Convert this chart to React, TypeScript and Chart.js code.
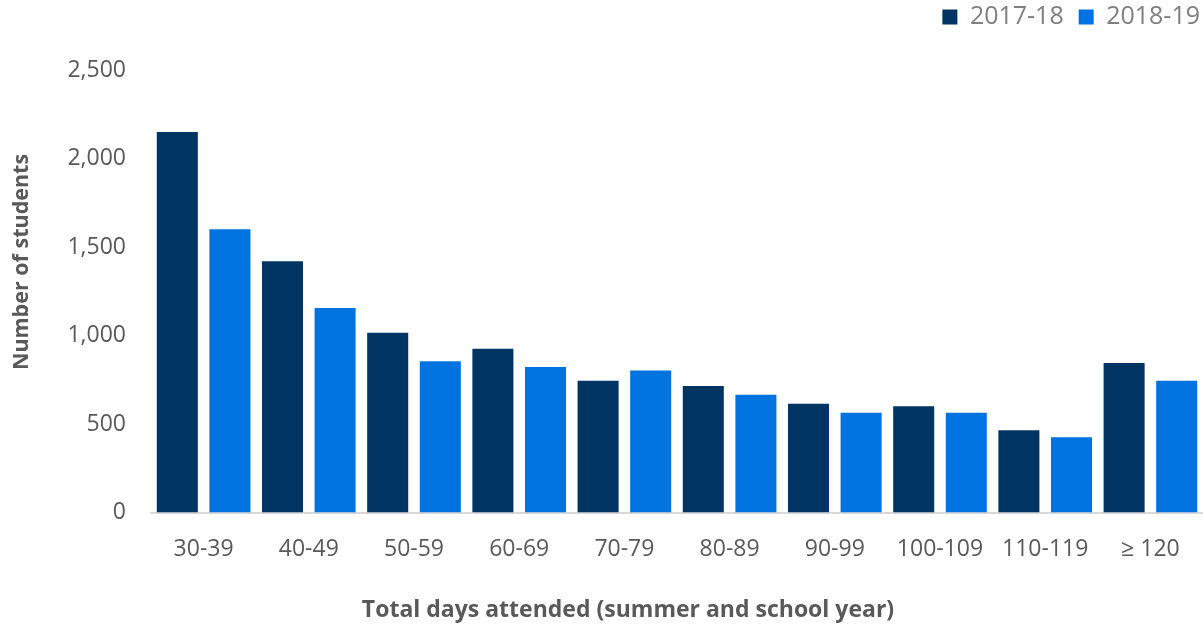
import { useEffect, useRef } from 'react';
import { Chart, registerables } from 'chart.js';

Chart.register(...registerables);

const categories = ['30-39', '40-49', '50-59', '60-69', '70-79', '80-89', '90-99', '100-109', '110-119', '≥ 120'];
const seriesNames = ['2017-18', '2018-19'];
const values2017 = [2150, 1420, 1015, 925, 745, 715, 615, 600, 465, 845];
const values2018 = [1600, 1155, 855, 822, 802, 665, 563, 563, 425, 745];
const yTicks = [0, 500, 1000, 1500, 2000, 2500];
const yTitle = 'Number of students';
const xTitle = 'Total days attended (summer and school year)';

const colors = ['#003462', '#0073E0'];
const FONT = '"Open Sans", "DejaVu Sans", sans-serif';
const LEGEND_PAD = 15;

const axisTitles = {
  id: 'axisTitles',
  afterDraw(chart: any) {
    const ctx = chart.ctx;
    ctx.save();
    ctx.fillStyle = '#595959';
    ctx.textAlign = 'center';
    ctx.textBaseline = 'middle';
    ctx.font = `bold 23px ${FONT}`;
    ctx.fillText(xTitle, 628, 610);
    ctx.font = `bold 21.5px ${FONT}`;
    ctx.translate(22, 262);
    ctx.rotate(-Math.PI / 2);
    ctx.fillText(yTitle, 0, 0);
    ctx.restore();
  },
};

const legendSpace = {
  id: 'legendSpace',
  beforeInit(chart: any) {
    const legend = chart.legend;
    if (!legend) return;
    const origFit = legend.fit;
    legend.fit = function () {
      origFit.call(this);
      this.height = 70;
    };
  },
  afterLayout(chart: any) {
    const legend = chart.legend;
    if (!legend) return;
    legend.top -= 10.5;
    legend.bottom -= 10.5;
    legend.right += LEGEND_PAD - 3;
    legend.width += LEGEND_PAD - 3;
  },
};

export default function App() {
  const ref = useRef<HTMLCanvasElement | null>(null);

  useEffect(() => {
    if (!ref.current) return;
    const chart = new Chart(ref.current, {
      type: 'bar',
      data: {
        labels: categories,
        datasets: [
          { label: seriesNames[0], data: values2017, backgroundColor: colors[0], borderWidth: 0 },
          { label: seriesNames[1], data: values2018, backgroundColor: colors[1], borderWidth: 0 },
        ],
      },
      options: {
        responsive: false,
        animation: false,
        events: [],
        layout: { padding: 0 },
        datasets: { bar: { barPercentage: 0.78, categoryPercentage: 1.0 } },
        plugins: {
          tooltip: { enabled: false },
          legend: {
            position: 'top',
            align: 'end',
            labels: {
              boxWidth: 15,
              boxHeight: 15,
              padding: LEGEND_PAD,
              color: '#7f7f7f',
              font: { family: FONT, size: 25 },
            },
          },
        },
        scales: {
          x: {
            grid: { display: false, drawTicks: false },
            border: { display: true, color: '#d9d9d9', width: 2 },
            ticks: {
              color: '#595959',
              font: { family: FONT, size: 23 },
              padding: 23,
              maxRotation: 0,
              autoSkip: false,
            },
            afterFit(scale: any) {
              scale.height = 114.5;
            },
          },
          y: {
            min: 0,
            max: 2500,
            grid: { display: false, drawTicks: false },
            border: { display: false },
            afterBuildTicks(scale: any) {
              scale.ticks = yTicks.map((v) => ({ value: v }));
            },
            ticks: {
              color: '#595959',
              font: { family: FONT, size: 23 },
              padding: 25,
              callback: (v: any) => Number(v).toLocaleString('en-US'),
            },
            afterFit(scale: any) {
              scale.width = 151;
            },
          },
        },
      },
      plugins: [legendSpace, axisTitles],
    });
    return () => chart.destroy();
  }, []);

  return (
    <div style={{ position: 'absolute', left: 0, top: 0, width: 1203, height: 627, background: '#fff' }}>
      <canvas ref={ref} width={1203} height={627} />
    </div>
  );
}
